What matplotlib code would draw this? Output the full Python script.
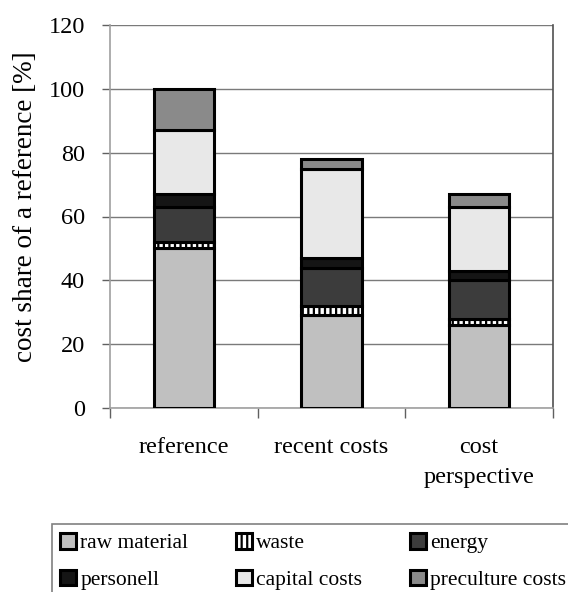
import matplotlib
matplotlib.use("Agg")
import matplotlib.pyplot as plt
from matplotlib.patches import Rectangle
import numpy as np

plt.rcParams['font.family'] = ['Liberation Serif', 'DejaVu Serif']
plt.rcParams['hatch.linewidth'] = 1.6
plt.rcParams['hatch.color'] = 'black'

# Scenarios and their cost components (% of the reference total)
categories = ["reference", "recent costs", "cost\nperspective"]
components = ["raw material", "waste", "energy", "personell", "capital costs", "preculture costs"]
raw_material = [50, 29, 26]
waste = [2, 3, 2]
energy = [11, 12, 12]
personell = [4, 3, 3]
capital_costs = [20, 28, 20]
preculture_costs = [13, 3, 4]
y_ticks = [0, 20, 40, 60, 80, 100, 120]

series = [raw_material, waste, energy, personell, capital_costs, preculture_costs]
face_colors = ['#c0c0c0', 'white', '#3c3c3c', '#151515', '#e8e8e8', '#8a8a8a']
hatches = [None, '|||', None, None, None, None]

W, H = 568, 592
fig = plt.figure(figsize=(W / 100, H / 100), dpi=100)
ax = fig.add_axes([110 / W, 1 - 408 / H, 443 / W, 383 / H])

x = np.arange(len(categories))
bottom = np.zeros(len(categories))
handles = []
for name, vals, fc, ht in zip(components, series, face_colors, hatches):
    bars = ax.bar(x, vals, width=0.41, bottom=bottom, color=fc, hatch=ht,
                  edgecolor='black', linewidth=2.2, label=name, zorder=3)
    handles.append(bars)
    bottom += np.array(vals)

ax.set_xlim(-0.5, len(categories) - 0.5)
ax.set_ylim(0, 120)
ax.set_yticks(y_ticks)
ax.set_yticklabels([str(v) for v in y_ticks])
ax.tick_params(axis='y', labelsize=17.5, length=6, width=1, color='#606060',
               direction='out', pad=12)

ax.set_xticks(x)
ax.set_xticklabels(categories, fontsize=17.5, linespacing=1.55)
ax.tick_params(axis='x', which='major', length=0, pad=21)
ax.set_xticks(np.arange(len(categories) + 1) - 0.5, minor=True)
ax.tick_params(axis='x', which='minor', length=7, width=1, color='#606060',
               direction='out')

ax.grid(axis='y', color='#7a7a7a', linewidth=1, zorder=0)
ax.set_axisbelow(True)
ax.spines['top'].set_visible(False)
ax.spines['left'].set_color('#a0a0a0')
ax.spines['bottom'].set_color('#a0a0a0')
ax.spines['right'].set_color('#505050')
for s in ax.spines.values():
    s.set_linewidth(1.2)

ax.set_ylabel("cost share of a reference [%]", fontsize=19.5)
ax.yaxis.set_label_coords(-0.163, 0.525)

# Legend frame running off the right and bottom edges
fig.patches.append(Rectangle((52 / W, -0.1), 1.0, (1 - 524 / H) + 0.1,
                             transform=fig.transFigure, fill=False,
                             edgecolor='#808080', linewidth=1.2))

order = [0, 3, 1, 4, 2, 5]
leg = fig.legend([handles[i] for i in order], [components[i] for i in order],
                 ncol=3, loc='upper left', bbox_to_anchor=(60 / W, 1 - 533 / H),
                 frameon=False, fontsize=15.5, borderpad=0, borderaxespad=0,
                 handlelength=0.75, handleheight=0.75, handletextpad=0.2,
                 columnspacing=2.2, labelspacing=0.75)

fig.savefig("out.png", dpi=100)
